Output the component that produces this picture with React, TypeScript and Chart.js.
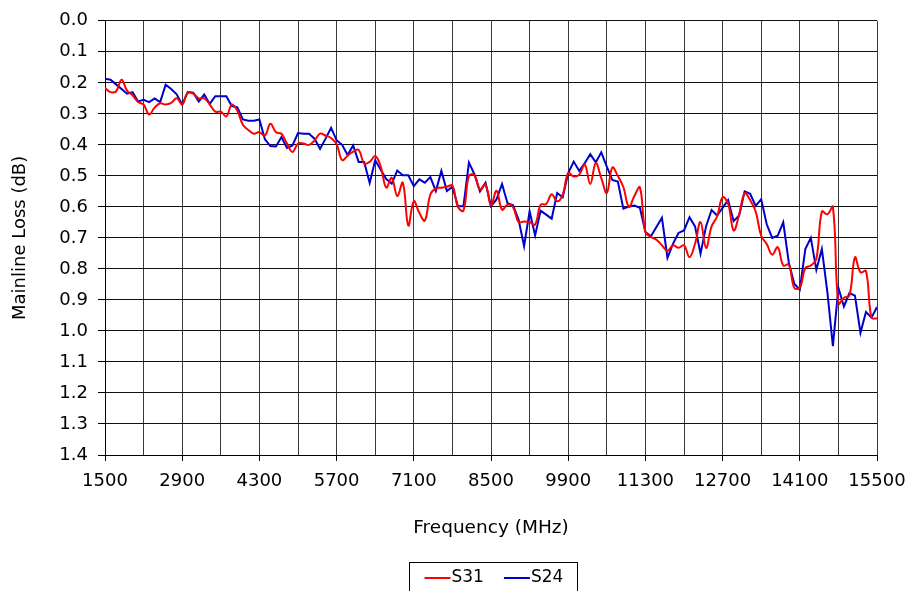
import React, { useEffect, useRef } from "react";
import { Chart, registerables } from "chart.js";

Chart.register(...registerables);

const frequencies = [
  1500, 1600, 1700, 1800, 1900, 2000, 2100, 2200, 2300, 2400, 2500, 2600, 2700, 2800, 2900,
  3000, 3100, 3200, 3300, 3400, 3500, 3600, 3700, 3800, 3900, 4000, 4100, 4200, 4300, 4400,
  4500, 4600, 4700, 4800, 4900, 5000, 5100, 5200, 5300, 5400, 5500, 5600, 5700, 5800, 5900,
  6000, 6100, 6200, 6300, 6400, 6500, 6600, 6700, 6800, 6900, 7000, 7100, 7200, 7300, 7400,
  7500, 7600, 7700, 7800, 7900, 8000, 8100, 8200, 8300, 8400, 8500, 8600, 8700, 8800, 8900,
  9000, 9100, 9200, 9300, 9400, 9500, 9600, 9700, 9800, 9900, 10000, 10100, 10200, 10300, 10400,
  10500, 10600, 10700, 10800, 10900, 11000, 11100, 11200, 11300, 11400, 11500, 11600, 11700, 11800, 11900,
  12000, 12100, 12200, 12300, 12400, 12500, 12600, 12700, 12800, 12900, 13000, 13100, 13200, 13300, 13400,
  13500, 13600, 13700, 13800, 13900, 14000, 14100, 14200, 14300, 14400, 14500, 14600, 14700, 14800, 14900,
  15000, 15100, 15200, 15300, 15400, 15500,
];

const s31 = [
  0.217, 0.23, 0.228, 0.19, 0.225, 0.24, 0.262, 0.27, 0.302, 0.28, 0.266, 0.27, 0.265, 0.25, 0.27,
  0.232, 0.235, 0.25, 0.25, 0.27, 0.293, 0.293, 0.308, 0.27, 0.29, 0.335, 0.352, 0.364, 0.359, 0.37,
  0.332, 0.359, 0.364, 0.396, 0.423, 0.396, 0.396, 0.4, 0.386, 0.364, 0.37, 0.378, 0.398, 0.449, 0.435,
  0.422, 0.416, 0.46, 0.455, 0.436, 0.47, 0.538, 0.506, 0.565, 0.522, 0.66, 0.582, 0.619, 0.644, 0.56,
  0.54, 0.538, 0.535, 0.531, 0.6, 0.612, 0.5, 0.498, 0.544, 0.528, 0.595, 0.548, 0.609, 0.593, 0.601,
  0.649, 0.647, 0.649, 0.657, 0.593, 0.591, 0.559, 0.582, 0.561, 0.491, 0.502, 0.496, 0.464, 0.526, 0.459,
  0.507, 0.555, 0.473, 0.5, 0.536, 0.6, 0.565, 0.537, 0.681, 0.697, 0.706, 0.724, 0.742, 0.724, 0.732,
  0.724, 0.762, 0.719, 0.649, 0.732, 0.663, 0.631, 0.569, 0.59, 0.676, 0.625, 0.556, 0.578, 0.615, 0.693,
  0.72, 0.754, 0.73, 0.789, 0.786, 0.861, 0.861, 0.797, 0.789, 0.768, 0.615, 0.624, 0.6, 0.912, 0.893,
  0.886, 0.763, 0.811, 0.807, 0.957, 0.96,
];

const s24 = [
  0.187, 0.19, 0.205, 0.22, 0.235, 0.23, 0.26, 0.255, 0.262, 0.25, 0.262, 0.206, 0.22, 0.237, 0.27,
  0.23, 0.232, 0.26, 0.238, 0.268, 0.243, 0.243, 0.243, 0.275, 0.279, 0.318, 0.322, 0.322, 0.318, 0.382,
  0.404, 0.405, 0.375, 0.41, 0.402, 0.362, 0.364, 0.364, 0.38, 0.413, 0.38, 0.345, 0.385, 0.4, 0.433,
  0.402, 0.455, 0.455, 0.523, 0.45, 0.48, 0.51, 0.525, 0.483, 0.498, 0.498, 0.533, 0.511, 0.522, 0.504,
  0.549, 0.484, 0.549, 0.535, 0.598, 0.598, 0.457, 0.495, 0.55, 0.522, 0.598, 0.576, 0.526, 0.588, 0.595,
  0.641, 0.727, 0.614, 0.692, 0.612, 0.625, 0.638, 0.555, 0.569, 0.491, 0.454, 0.484, 0.459, 0.43, 0.456,
  0.424, 0.47, 0.513, 0.518, 0.606, 0.599, 0.596, 0.603, 0.681, 0.695, 0.665, 0.635, 0.764, 0.719, 0.684,
  0.676, 0.633, 0.663, 0.751, 0.663, 0.61, 0.628, 0.603, 0.578, 0.646, 0.628, 0.55, 0.558, 0.597, 0.575,
  0.656, 0.7, 0.693, 0.65, 0.779, 0.848, 0.867, 0.736, 0.7, 0.803, 0.736, 0.875, 1.049, 0.861, 0.921,
  0.878, 0.886, 1.006, 0.939, 0.957, 0.923,
];

const xGridTicks = [
  1500, 2200, 2900, 3600, 4300, 5000, 5700, 6400, 7100, 7800, 8500, 9200, 9900, 10600, 11300,
  12000, 12700, 13400, 14100, 14800, 15500,
];
const xTickLabels = [1500, 2900, 4300, 5700, 7100, 8500, 9900, 11300, 12700, 14100, 15500];

const seriesNames = ["S31", "S24"];
const seriesColors = ["#FF0000", "#0000CC"];

const FONT = "'DejaVu Sans', Verdana, sans-serif";

const legendPlugin = {
  id: "boxLegend",
  afterDraw(chart: any) {
    const ctx = chart.ctx;
    const cx = (chart.chartArea.left + chart.chartArea.right) / 2 + 2;
    const boxW = 168;
    const left = Math.round(cx - boxW / 2) + 0.5;
    const top = 562.5;
    ctx.save();
    ctx.strokeStyle = "#000";
    ctx.lineWidth = 1;
    ctx.strokeRect(left, top, boxW, 40);
    ctx.font = `17px ${FONT}`;
    ctx.textBaseline = "middle";
    ctx.fillStyle = "#000";
    const y = 578;
    let x = left + 15;
    chart.data.datasets.forEach((ds: any) => {
      ctx.strokeStyle = ds.borderColor;
      ctx.lineWidth = 2;
      ctx.beginPath();
      ctx.moveTo(x, y);
      ctx.lineTo(x + 26, y);
      ctx.stroke();
      x += 27;
      ctx.fillText(ds.label, x, y);
      x += ctx.measureText(ds.label).width + 20;
    });
    ctx.restore();
  },
};

export default function App() {
  const canvasRef = useRef<HTMLCanvasElement | null>(null);

  useEffect(() => {
    document.body.style.margin = "0";
    const canvas = canvasRef.current;
    if (!canvas) return;
    const chart = new Chart(canvas, {
      type: "line",
      data: {
        datasets: [
          {
            label: seriesNames[0],
            data: frequencies.map((f, i) => ({ x: f, y: s31[i] })),
            borderColor: seriesColors[0],
            backgroundColor: seriesColors[0],
            borderWidth: 2,
            pointRadius: 0,
            tension: 0.4,
          },
          {
            label: seriesNames[1],
            data: frequencies.map((f, i) => ({ x: f, y: s24[i] })),
            borderColor: seriesColors[1],
            backgroundColor: seriesColors[1],
            borderWidth: 2,
            pointRadius: 0,
            tension: 0,
          },
        ],
      },
      options: {
        responsive: false,
        animation: false,
        layout: { padding: { top: 18, right: 31, left: 0, bottom: 0 } },
        plugins: {
          legend: { display: false },
          tooltip: { enabled: false },
        },
        scales: {
          x: {
            type: "linear",
            min: 1500,
            max: 15500,
            afterBuildTicks: (scale: any) => {
              scale.ticks = xGridTicks.map((v) => ({ value: v }));
            },
            afterFit: (scale: any) => {
              scale.height = 136;
              scale.paddingLeft = 0;
              scale.paddingRight = 0;
            },
            ticks: {
              autoSkip: false,
              maxRotation: 0,
              padding: 10,
              color: "#000",
              font: { family: FONT, size: 18 },
              callback: (v: any) => (xTickLabels.includes(Number(v)) ? String(v) : ""),
            },
            grid: {
              color: "#3a3a3a",
              lineWidth: 1,
              tickLength: 6,
              tickColor: (c: any) =>
                c.tick && xTickLabels.includes(c.tick.value) ? "#000" : "rgba(0,0,0,0)",
            },
            border: { display: true, color: "#000", width: 1 },
            title: {
              display: true,
              text: "Frequency (MHz)",
              color: "#000",
              font: { family: FONT, size: 18.5 },
              padding: { top: 0, bottom: 52 },
            },
          },
          y: {
            type: "linear",
            reverse: true,
            min: 0,
            max: 1.4,
            afterFit: (scale: any) => {
              scale.width = 105;
            },
            ticks: {
              stepSize: 0.1,
              padding: 10,
              color: "#000",
              font: { family: FONT, size: 18 },
              callback: (v: any) => Number(v).toFixed(1),
            },
            grid: {
              color: "#111",
              lineWidth: 1,
              tickLength: 7,
              tickColor: "#000",
            },
            border: { display: true, color: "#000", width: 1 },
            title: {
              display: true,
              text: "Mainline Loss (dB)",
              color: "#000",
              font: { family: FONT, size: 18 },
              padding: { top: 10, bottom: 0 },
            },
          },
        },
      },
      plugins: [legendPlugin],
    });
    return () => chart.destroy();
  }, []);

  return (
    <div style={{ width: 908, height: 591, position: "relative" }}>
      <canvas ref={canvasRef} width={908} height={591} style={{ display: "block" }} />
    </div>
  );
}
